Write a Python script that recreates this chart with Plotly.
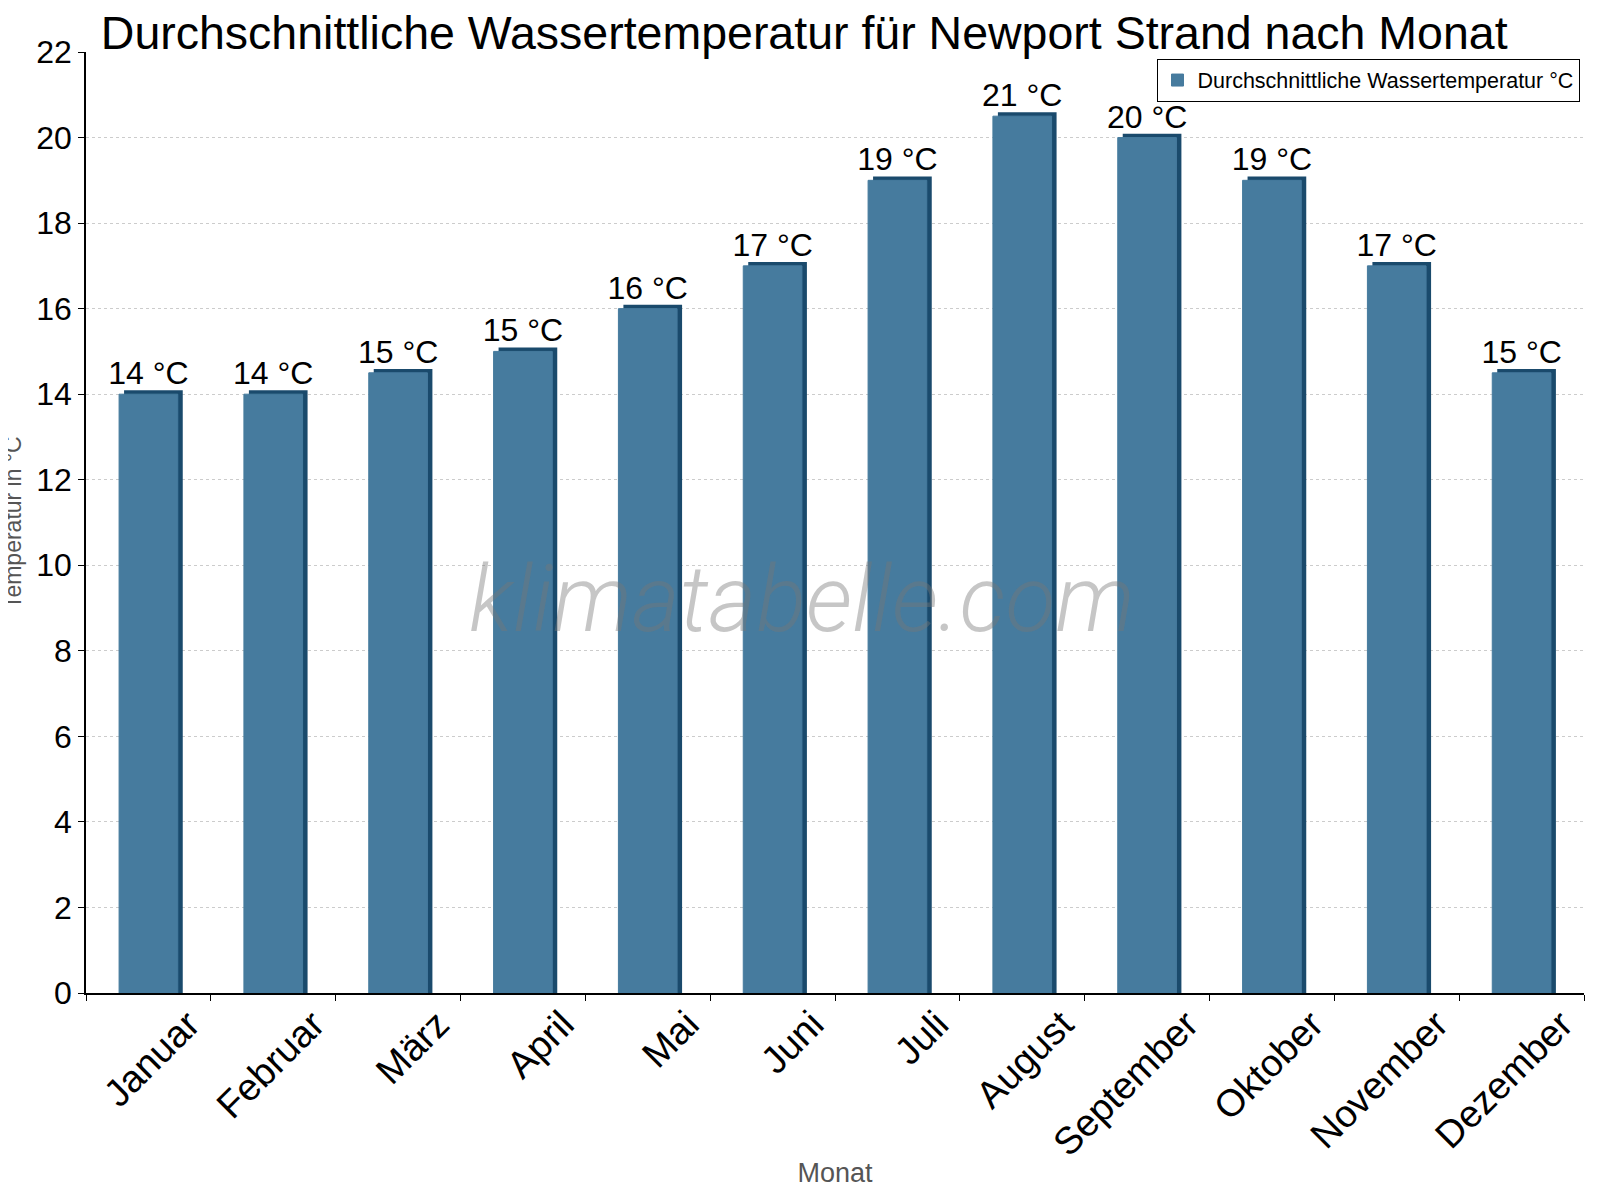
import plotly.graph_objects as go

# monthly average water temperature (°C)
months = ['Januar', 'Februar', 'März', 'April', 'Mai', 'Juni', 'Juli',
          'August', 'September', 'Oktober', 'November', 'Dezember']
water_temp = [14, 14, 14.5, 15, 16, 17, 19, 20.5, 20, 19, 17, 14.5]
y_ticks = [0, 2, 4, 6, 8, 10, 12, 14, 16, 18, 20, 22]

front_col = '#467b9e'
side_col = '#1a4a6c'
depth = 0.09  # height of the dark top bevel, in data units

fig = go.Figure()

# dark "3d" back part, a bit to the right and higher
fig.add_trace(go.Bar(
    x=months, y=[v + depth for v in water_temp],
    width=0.47, offset=-0.235 + 0.04,
    marker=dict(color=side_col, line=dict(width=0)),
    showlegend=False, hoverinfo='skip',
))

# front face
fig.add_trace(go.Bar(
    x=months, y=water_temp,
    name='Durchschnittliche Wassertemperatur °C',
    width=0.47, offset=-0.235,
    marker=dict(color=front_col, line=dict(width=1, color=front_col)),
    texttemplate='%{y:.0f} °C', textposition='outside', constraintext='none',
    textfont=dict(size=32, color='black'),
    cliponaxis=False,
))

fig.add_annotation(
    text='<i>klimatabelle.com</i>', x=0.478, y=9.2, xref='paper', yref='y',
    showarrow=False,
    font=dict(family='Roboto', size=92, color='rgba(120,120,120,0.42)', weight=300),
)

# y axis title as annotation so it sits clear of the tick labels
fig.add_annotation(
    text='Temperatur in °C', x=-0.049, y=0.5, xref='paper', yref='paper',
    xanchor='center', yanchor='middle', textangle=-90, showarrow=False,
    font=dict(size=23, color='#555555'),
)

fig.update_layout(
    width=1600, height=1200,
    barmode='overlay',
    plot_bgcolor='white', paper_bgcolor='white',
    font=dict(family='Liberation Sans, Arial, sans-serif', color='black'),
    margin=dict(l=78, r=24, t=44, b=215),
    title=dict(text='Durchschnittliche Wassertemperatur für Newport Strand nach Monat',
               x=0.058, xanchor='left', xref='container',
               y=0.979, yanchor='middle', font=dict(size=46.5, color='black')),
    legend=dict(x=0.997, y=0.993, xanchor='right', yanchor='top',
                bordercolor='black', borderwidth=1, bgcolor='white',
                font=dict(size=21.5, color='black')),
)

fig.update_xaxes(
    type='category', tickson='boundaries', ticks='outside', ticklen=6,
    tickcolor='black', showline=True, linecolor='black', linewidth=1.5,
    tickangle=-45, tickfont=dict(size=38, color='black'),
    ticklabelshift=40, ticklabelstandoff=-8,
    title=dict(text='Monat', font=dict(size=27, color='#555555'), standoff=0),
    showgrid=False, automargin=False,
)
fig.update_yaxes(
    range=[0, 22], tickvals=y_ticks, ticks='outside', ticklen=6,
    tickcolor='black', showline=True, linecolor='black', linewidth=1.5,
    tickfont=dict(size=32, color='black'),
    showgrid=True, gridcolor='#cccccc', griddash='dot', gridwidth=1,
    zeroline=False, automargin=False,
)

fig.write_html("out.html")
